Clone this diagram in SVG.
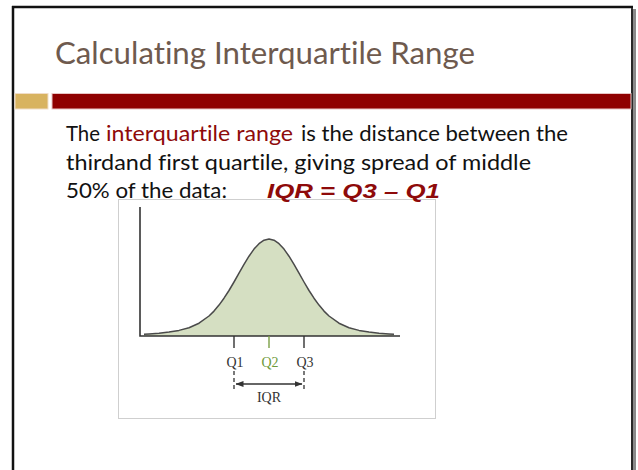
<svg xmlns="http://www.w3.org/2000/svg" width="638" height="470" viewBox="0 0 638 470">
<style>
text{font-variant-ligatures:none;font-feature-settings:"liga" 0,"clig" 0}
.title{font-family:Lato,"Liberation Sans",sans-serif;font-size:30px;fill:#6E5A4E}
.body{font-family:Lato,"DejaVu Sans",sans-serif;font-size:21px;fill:#111}
.red{fill:#8E0A0A}
.eq{font-family:"Liberation Sans",Arial,sans-serif;font-size:20px;font-weight:bold;font-style:italic;fill:#8E0A0A}
.lbl{font-family:"Liberation Serif","Times New Roman",serif;font-size:14px;fill:#333;text-anchor:middle}
.axis{stroke:#333;stroke-width:1.6;fill:none}
.tick{stroke:#333;stroke-width:1.4}
</style>
<defs>
<marker id="ah" viewBox="0 0 8 6" refX="7.5" refY="3" markerWidth="8" markerHeight="6" orient="auto-start-reverse" markerUnits="userSpaceOnUse">
<path d="M0,0 L8,3 L0,6 Z" fill="#333"/>
</marker>
</defs>
<rect width="638" height="470" fill="#fff"/>
<g id="slide-frame">
<rect x="631" y="9" width="5" height="461" fill="#8a8a8a"/>
<line x1="632" y1="7" x2="632" y2="470" stroke="#111" stroke-width="1.6"/>
<line x1="12" y1="7" x2="633" y2="7" stroke="#111" stroke-width="2.5"/>
<line x1="13" y1="6" x2="13" y2="470" stroke="#111" stroke-width="2.5"/>
</g>
<g id="title">
<text class="title" x="55" y="64" textLength="420" lengthAdjust="spacingAndGlyphs">Calculating Interquartile Range</text>
</g>
<g id="title-bar">
<rect x="15" y="93.5" width="33" height="15.5" fill="#D8B360" stroke="#F1DDC8" stroke-width="1"/>
<rect x="52" y="93.5" width="579" height="15.5" fill="#8F0000" stroke="#E8C4C4" stroke-width="1"/>
</g>
<g id="figure">
<rect x="118.5" y="199.5" width="317" height="219" fill="#fff" stroke="#cfcfcf" stroke-width="1"/>
<path d="M144,336 L144,334.3 L149,334 L159,333.2 L169,332.1 L179,330.4 L189,327.7 L199,323.2 L209,316 L214,311.1 L219,305.1 L224,298.2 L229,290.5 L234,282 L239,273.2 L244,264.3 L249,256.2 L254,249.1 L259,243.7 L264,240.2 L269,239 L274,240.2 L279,243.7 L284,249.1 L289,256.2 L294,264.3 L299,273.2 L304,282 L309,290.5 L314,298.2 L319,305.1 L324,311.1 L329,316 L339,323.2 L349,327.7 L359,330.4 L369,332.1 L379,333.2 L389,334 L394,334.3 L394,336 Z" fill="#D5DFC2"/>
<path d="M144,334.3 L149,334 L159,333.2 L169,332.1 L179,330.4 L189,327.7 L199,323.2 L209,316 L214,311.1 L219,305.1 L224,298.2 L229,290.5 L234,282 L239,273.2 L244,264.3 L249,256.2 L254,249.1 L259,243.7 L264,240.2 L269,239 L274,240.2 L279,243.7 L284,249.1 L289,256.2 L294,264.3 L299,273.2 L304,282 L309,290.5 L314,298.2 L319,305.1 L324,311.1 L329,316 L339,323.2 L349,327.7 L359,330.4 L369,332.1 L379,333.2 L389,334 L394,334.3" fill="none" stroke="#4a4a4a" stroke-width="1.5" stroke-linejoin="round"/>
<path class="axis" d="M140,207 L140,336 L400,336"/>
<line class="tick" x1="234" y1="336" x2="234" y2="348"/>
<line x1="269" y1="336" x2="269" y2="348" stroke="#7BA046" stroke-width="1.4"/>
<line class="tick" x1="304" y1="336" x2="304" y2="348"/>
<text class="lbl" x="235" y="367">Q1</text>
<text class="lbl" x="270" y="367" style="fill:#6E9A3A">Q2</text>
<text class="lbl" x="305" y="367">Q3</text>
<line x1="234" y1="371" x2="234" y2="391" stroke="#333" stroke-width="1.3" stroke-dasharray="4,3"/>
<line x1="304" y1="371" x2="304" y2="391" stroke="#333" stroke-width="1.3" stroke-dasharray="4,3"/>
<line x1="236" y1="384" x2="302" y2="384" stroke="#333" stroke-width="1.3" marker-start="url(#ah)" marker-end="url(#ah)"/>
<text class="lbl" x="269" y="402">IQR</text>
</g>
<g id="body-text">
<text class="body" y="141"><tspan x="66" textLength="34" lengthAdjust="spacingAndGlyphs">The</tspan><tspan class="red" x="106" textLength="187" lengthAdjust="spacingAndGlyphs">interquartile range</tspan><tspan x="301" textLength="267" lengthAdjust="spacingAndGlyphs">is the distance between the</tspan></text>
<text class="body" x="66" y="170" textLength="465" lengthAdjust="spacingAndGlyphs">thirdand first quartile, giving spread of middle</text>
<text class="body" x="66" y="198" textLength="161" lengthAdjust="spacingAndGlyphs">50% of the data:</text>
<text class="eq" x="267" y="198" textLength="173" lengthAdjust="spacingAndGlyphs">IQR = Q3 – Q1</text>
</g>
</svg>
